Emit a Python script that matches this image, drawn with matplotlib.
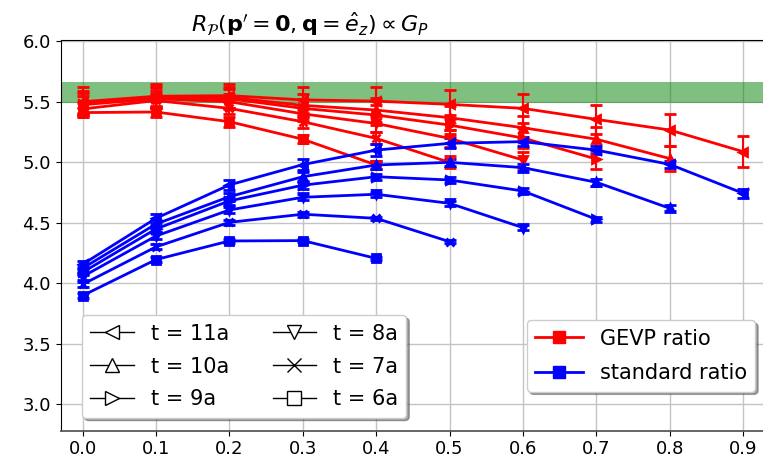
import numpy as np
import matplotlib.pyplot as plt
from matplotlib.lines import Line2D

# momentum transfer values
q = [0.0, 0.1, 0.2, 0.3, 0.4, 0.5, 0.6, 0.7, 0.8, 0.9]

t_labels = ['t = 11a', 't = 10a', 't = 9a', 't = 8a', 't = 7a', 't = 6a']
markers = ['<', '^', '>', 'v', 'x', 's']

# GEVP ratio, one list per source-sink separation (t = 11a ... 6a)
gevp_t11 = [5.50, 5.545, 5.55, 5.515, 5.505, 5.478, 5.445, 5.354, 5.266, 5.087]
gevp_t10 = [5.49, 5.54, 5.535, 5.47, 5.431, 5.368, 5.285, 5.19, 5.03]
gevp_t9 = [5.485, 5.53, 5.525, 5.445, 5.39, 5.307, 5.20, 5.026]
gevp_t8 = [5.475, 5.525, 5.50, 5.40, 5.32, 5.197, 5.018]
gevp_t7 = [5.44, 5.51, 5.445, 5.335, 5.197, 4.998]
gevp_t6 = [5.41, 5.415, 5.335, 5.19, 4.977]

gevp_err_t11 = [0.12, 0.10, 0.10, 0.11, 0.12, 0.12, 0.12, 0.12, 0.13, 0.13]
gevp_err_t10 = [0.10, 0.09, 0.09, 0.09, 0.10, 0.10, 0.10, 0.10, 0.10]
gevp_err_t9 = [0.09, 0.08, 0.08, 0.08, 0.08, 0.08, 0.08, 0.08]
gevp_err_t8 = [0.07, 0.06, 0.06, 0.06, 0.07, 0.07, 0.065]
gevp_err_t7 = [0.05, 0.05, 0.05, 0.05, 0.05, 0.05]
gevp_err_t6 = [0.04, 0.04, 0.04, 0.035, 0.035]

# standard ratio
std_t11 = [4.156, 4.536, 4.812, 4.98, 5.10, 5.156, 5.17, 5.10, 4.982, 4.743]
std_t10 = [4.123, 4.489, 4.715, 4.88, 4.977, 4.999, 4.955, 4.834, 4.619]
std_t9 = [4.09, 4.448, 4.68, 4.81, 4.88, 4.853, 4.762, 4.528]
std_t8 = [4.054, 4.39, 4.605, 4.71, 4.735, 4.66, 4.459]
std_t7 = [3.99, 4.30, 4.503, 4.57, 4.536, 4.343]
std_t6 = [3.897, 4.195, 4.349, 4.352, 4.205]

std_err_t11 = [0.03, 0.035, 0.04, 0.045, 0.05, 0.04, 0.035, 0.035, 0.03, 0.035]
std_err_t10 = [0.03, 0.03, 0.03, 0.035, 0.035, 0.03, 0.03, 0.03, 0.025]
std_err_t9 = [0.025, 0.025, 0.03, 0.03, 0.025, 0.025, 0.025, 0.02]
std_err_t8 = [0.025, 0.025, 0.025, 0.025, 0.02, 0.02, 0.02]
std_err_t7 = [0.02, 0.02, 0.02, 0.02, 0.015, 0.012]
std_err_t6 = [0.02, 0.02, 0.02, 0.015, 0.015]

band_lo, band_hi = 5.49, 5.66

gevp = [gevp_t11, gevp_t10, gevp_t9, gevp_t8, gevp_t7, gevp_t6]
gevp_err = [gevp_err_t11, gevp_err_t10, gevp_err_t9, gevp_err_t8, gevp_err_t7, gevp_err_t6]
std = [std_t11, std_t10, std_t9, std_t8, std_t7, std_t6]
std_err = [std_err_t11, std_err_t10, std_err_t9, std_err_t8, std_err_t7, std_err_t6]


def main():
    fig = plt.figure(figsize=(7.63, 4.66), dpi=100)
    ax = fig.add_axes([0.0796, 0.0758, 0.9204, 0.8394])

    ax.axhspan(band_lo, band_hi, color='green', alpha=0.5, lw=0, zorder=1)

    for vals, errs, m in zip(gevp, gevp_err, markers):
        ax.errorbar(q[:len(vals)], vals, yerr=errs, color='red', marker=m, ms=6,
                    mew=2, lw=2, elinewidth=1.5, capsize=4, capthick=1.2, zorder=3)
    for vals, errs, m in zip(std, std_err, markers):
        ax.errorbar(q[:len(vals)], vals, yerr=errs, color='blue', marker=m, ms=6,
                    mew=2, lw=2, elinewidth=1.5, capsize=4, capthick=1.2, zorder=3)

    ax.set_xlim(-0.0297, 0.927)
    ax.set_ylim(2.781, 6.014)
    ax.set_xticks(q)
    ax.set_xticklabels([f'{v:.1f}' for v in q])
    ax.set_yticks(np.arange(3.0, 6.01, 0.5))
    ax.tick_params(labelsize=13)
    ax.grid(True, color='#c4c4c4', lw=1.0, zorder=0)
    ax.set_axisbelow(True)
    ax.spines['bottom'].set_color('0.35')
    ax.spines['bottom'].set_linewidth(1.3)
    ax.spines['right'].set_visible(False)

    t_handles = [Line2D([], [], color='black', lw=1, marker=m, ms=10,
                        mfc='white', mec='black') for m in markers]
    leg1 = ax.legend(t_handles, t_labels, ncol=2, loc='lower left',
                     bbox_to_anchor=(0.03, 0.033), borderaxespad=0,
                     fontsize=15, shadow=True, columnspacing=2.1,
                     labelspacing=0.62, handlelength=2.1)
    ax.add_artist(leg1)

    r_handles = [Line2D([], [], color='red', lw=2, marker='s', ms=8),
                 Line2D([], [], color='blue', lw=2, marker='s', ms=8)]
    ax.legend(r_handles, ['GEVP ratio', 'standard ratio'], loc='lower right',
              bbox_to_anchor=(0.989, 0.10), borderaxespad=0, fontsize=15,
              shadow=True, labelspacing=0.7, handlelength=2.3)

    fig.text(0.406, 1 - 24 / 466,
             r'$R_{\mathcal{P}}(\mathbf{p}^{\prime}=\mathbf{0},\mathbf{q}=\hat{e}_z) \propto G_P$',
             ha='center', va='center', fontsize=16)

    fig.savefig('out.png', dpi=100)


if __name__ == '__main__':
    main()
